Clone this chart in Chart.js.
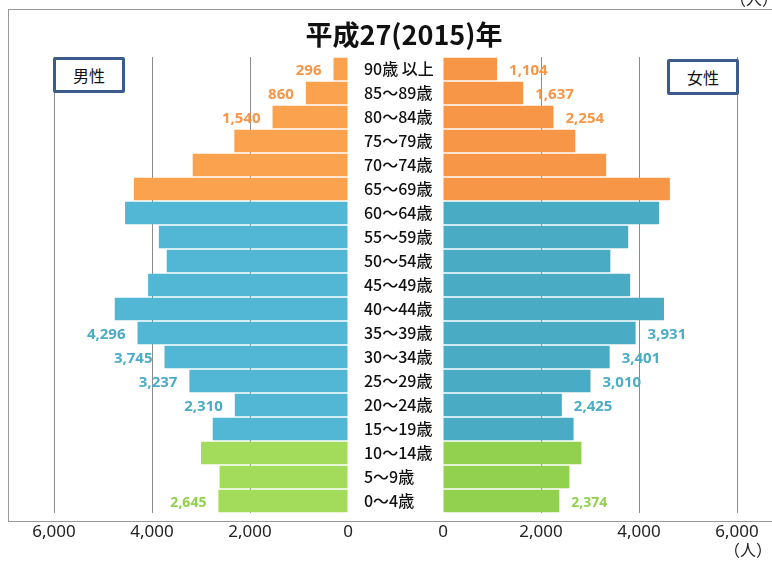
<!DOCTYPE html>
<html>
<head>
<meta charset="utf-8">
<script src="https://cdn.jsdelivr.net/npm/chart.js@4/dist/chart.umd.min.js"></script>
<style>
  body { margin: 0; width: 772px; height: 566px; overflow: hidden; background: #fff; position: relative; font-family: "Noto Sans CJK JP", "Noto Sans", sans-serif; }
  .frame { position: absolute; left: 8px; top: 9px; width: 800px; height: 511px; border-left: 1px solid #999; border-top: 1px solid #999; border-bottom: 1px solid #999; }
  canvas { position: absolute; top: 0; }
  #leftChart { left: 0; }
  #rightChart { left: 364px; }
  .title { position: absolute; left: 0; width: 808px; top: 14px; text-align: center; font-size: 27px; font-weight: bold; color: #111; }
  .box { position: absolute; width: 66px; height: 30px; border: 3px solid #3b5b8c; border-radius: 2px; background: #fff; font-size: 16px; color: #111; text-align: center; line-height: 30px; }
  .unit { position: absolute; font-size: 16px; color: #222; }
</style>
</head>
<body>
<div class="frame"></div>
<canvas id="leftChart" width="372" height="566"></canvas>
<canvas id="rightChart" width="408" height="566"></canvas>
<div class="title">平成27(2015)年</div>
<div class="box" style="left:53px; top:57px;">男性</div>
<div class="box" style="left:667px; top:59px;">女性</div>
<div class="unit" style="left:724px; top:537px;">（人）</div>
<div class="unit" style="left:730px; top:-14px;">（人）</div>
<script>
// 年齢階級（上から）
const ageGroups = ['90歳 以上', '85〜89歳', '80〜84歳', '75〜79歳', '70〜74歳', '65〜69歳',
  '60〜64歳', '55〜59歳', '50〜54歳', '45〜49歳', '40〜44歳', '35〜39歳', '30〜34歳',
  '25〜29歳', '20〜24歳', '15〜19歳', '10〜14歳', '5〜9歳', '0〜4歳'];
const male = [296, 860, 1540, 2320, 3170, 4370, 4550, 3860, 3700, 4080, 4760, 4296, 3745,
  3237, 2310, 2760, 3000, 2620, 2645];
const female = [1104, 1637, 2254, 2700, 3330, 4630, 4410, 3780, 3415, 3820, 4510, 3931, 3401,
  3010, 2425, 2665, 2825, 2580, 2374];
// 数値を表示する階級
const labeledRows = [0, 1, 2, 11, 12, 13, 14, 18];
const xTicks = [0, 2000, 4000, 6000];

function group(i) { return i < 6 ? 'old' : (i < 16 ? 'work' : 'young'); }
const maleColors = { old: '#fba24f', work: '#52b7d5', young: '#a2dc5a' };
const femaleColors = { old: '#f79646', work: '#4aabc5', young: '#92d050' };
const labelColors = { old: '#f79646', work: '#4bacc6', young: '#92d050' };

const valueLabels = {
  id: 'valueLabels',
  afterDatasetsDraw(chart, args, opts) {
    const ctx = chart.ctx;
    const meta = chart.getDatasetMeta(0);
    ctx.save();
    ctx.textBaseline = 'middle';
    labeledRows.forEach(i => {
      const el = meta.data[i];
      const g = group(i);
      ctx.fillStyle = labelColors[g];
      ctx.font = 'bold ' + (g === 'young' ? 14 : 15) + 'px "Noto Sans", sans-serif';
      ctx.textAlign = opts.side === 'left' ? 'right' : 'left';
      const v = chart.data.datasets[0].data[i].toLocaleString('en-US');
      ctx.fillText(v, el.x + (opts.side === 'left' ? -12 : 12), el.y + 2);
    });
    ctx.restore();
  }
};

function xScale(reverse) {
  return {
    min: 0, max: 6000, reverse: reverse,
    afterBuildTicks: s => { s.ticks = xTicks.map(v => ({ value: v })); },
    afterFit: s => { s.height = 40; },
    grid: { color: c => c.tick && c.tick.value === 0 ? 'rgba(0,0,0,0)' : '#8c8c8c', lineWidth: 1, drawTicks: false },
    border: { display: false },
    ticks: { padding: 9, color: '#222', font: { family: '"Noto Sans", sans-serif', size: 17 },
      callback: v => v.toLocaleString('en-US') }
  };
}

const barBase = { barPercentage: 0.94, categoryPercentage: 1, borderWidth: 0 };

new Chart(document.getElementById('leftChart'), {
  type: 'bar',
  data: { labels: ageGroups, datasets: [Object.assign({ data: male, backgroundColor: ageGroups.map((a, i) => maleColors[group(i)]) }, barBase)] },
  options: {
    indexAxis: 'y', responsive: false, animation: false,
    layout: { padding: { left: 54, right: 24, top: 57, bottom: 13 } },
    plugins: { legend: { display: false }, tooltip: { enabled: false }, valueLabels: { side: 'left' } },
    scales: { x: xScale(true), y: { display: false } }
  },
  plugins: [valueLabels]
});

new Chart(document.getElementById('rightChart'), {
  type: 'bar',
  data: { labels: ageGroups, datasets: [Object.assign({ data: female, backgroundColor: ageGroups.map((a, i) => femaleColors[group(i)]) }, barBase)] },
  options: {
    indexAxis: 'y', responsive: false, animation: false,
    layout: { padding: { left: 0, right: 35, top: 57, bottom: 13 } },
    plugins: { legend: { display: false }, tooltip: { enabled: false }, valueLabels: { side: 'right' } },
    scales: {
      x: xScale(false),
      y: {
        position: 'left',
        afterFit: s => { s.width = 79; },
        grid: { display: false }, border: { display: false },
        ticks: { autoSkip: false, crossAlign: 'far', padding: 0, color: '#111',
          font: { family: '"Noto Sans CJK JP", sans-serif', size: 16, weight: '500' } }
      }
    }
  },
  plugins: [valueLabels]
});
</script>
</body>
</html>
